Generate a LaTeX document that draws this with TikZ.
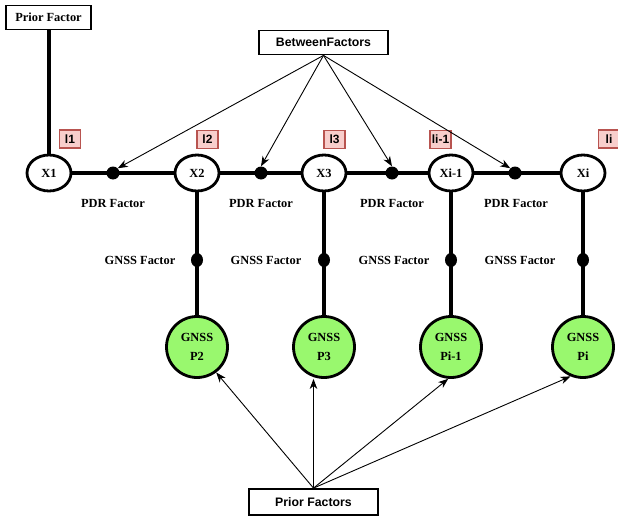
\documentclass[tikz,border=0pt]{standalone}
\usepackage{fontspec}
\setmainfont{Liberation Serif}
\setsansfont{Liberation Sans}
\usetikzlibrary{arrows.meta,shapes.geometric}
\definecolor{gfill}{HTML}{99F86E}
\definecolor{lfill}{HTML}{F8CECC}
\definecolor{ldraw}{HTML}{B85450}
\pgfdeclarelayer{bg}
\pgfsetlayers{bg,main}
\begin{document}
\begin{tikzpicture}[x=1pt,y=-1pt,
  fs/.style={font=\fontsize{12.4}{18.5}\selectfont\bfseries},
  sfs/.style={font=\sffamily\bfseries\fontsize{12.3}{14}\selectfont},
  state/.style={draw,line width=2.8pt,ellipse,minimum width=44pt,minimum height=36pt,inner sep=0pt,fill=white,fs},
  gnss/.style={draw,line width=2.8pt,circle,minimum size=61pt,inner sep=0pt,fill=gfill,fs,align=center},
  fdot/.style={circle,fill=black,minimum size=13pt,inner sep=0pt},
  gdot/.style={ellipse,fill=black,minimum width=12pt,minimum height=14pt,inner sep=0pt},
  lbl/.style={draw=ldraw,line width=1.4pt,fill=lfill,minimum width=21pt,minimum height=18pt,inner sep=2pt,font=\sffamily\bfseries\fontsize{12}{14}\selectfont},
  boxs/.style={draw,line width=1.8pt,inner sep=0pt,minimum height=24pt},
  thk/.style={line width=3.2pt},
  arr/.style={line width=0.9pt,-{Stealth[length=10pt,width=7.5pt,inset=3pt]}},
  txt/.style={fs,inner sep=0pt}
]
\useasboundingbox (0,0) rectangle (618,519);
% boxes
\node[boxs,minimum width=85pt,fs] (pf) at (48.5,17.5) {Prior Factor};
\node[boxs,minimum width=129pt,sfs] (bf) at (323.5,42.5) {BetweenFactors};
\node[boxs,minimum width=129pt,minimum height=26pt,sfs] (pfs) at (313.5,502) {Prior Factors};
% states
\node[state] (x1) at (49,173) {X1};
\node[state] (x2) at (197,173) {X2};
\node[state] (x3) at (324,173) {X3};
\node[state] (x4) at (451,173) {Xi-1};
\node[state] (x5) at (583,173) {Xi};
% pdr factor dots
\node[fdot] (d1) at (113,173) {};
\node[fdot] (d2) at (261,173) {};
\node[fdot] (d3) at (392,173) {};
\node[fdot] (d4) at (515,173) {};
% gnss factor dots
\node[gdot] (g2) at (197,260) {};
\node[gdot] (g3) at (324,260) {};
\node[gdot] (g4) at (451,260) {};
\node[gdot] (g5) at (583,260) {};
% gnss circles
\node[gnss] (p2) at (197,347) {GNSS\\P2};
\node[gnss] (p3) at (324,347) {GNSS\\P3};
\node[gnss] (p4) at (451,347) {GNSS\\Pi-1};
\node[gnss] (p5) at (583,347) {GNSS\\Pi};
% thick connectors behind nodes
\begin{pgfonlayer}{bg}
\draw[thk] (pf.south -| x1) -- (x1.center);
\draw[thk] (x1.center) -- (d1.center) -- (x2.center) -- (d2.center) -- (x3.center) -- (d3.center) -- (x4.center) -- (d4.center) -- (x5.center);
\draw[thk] (x2.center) -- (g2.center) -- (p2.center);
\draw[thk] (x3.center) -- (g3.center) -- (p3.center);
\draw[thk] (x4.center) -- (g4.center) -- (p4.center);
\draw[thk] (x5.center) -- (g5.center) -- (p5.center);
\end{pgfonlayer}
% index labels
\node[lbl] (l1) at (70,139) {l1};
\node[lbl] (l2) at (207.5,139.5) {l2};
\node[lbl] (l3) at (334.5,139.5) {l3};
\node[lbl] (l4) at (440.5,139.5) {li-1};
\node[lbl] (l5) at (609,139) {li};
% text labels
\node[txt] (t1) at (113,203) {PDR Factor};
\node[txt] (t2) at (261,203) {PDR Factor};
\node[txt] (t3) at (392,203) {PDR Factor};
\node[txt] (t4) at (516,203) {PDR Factor};
\node[txt] (u2) at (140,260) {GNSS Factor};
\node[txt] (u3) at (266,260) {GNSS Factor};
\node[txt] (u4) at (394,260) {GNSS Factor};
\node[txt] (u5) at (520,260) {GNSS Factor};
% arrows from between factors
\draw[arr] (bf.south) -- (d1.north east);
\draw[arr] (bf.south) -- (d2.north);
\draw[arr] (bf.south) -- (d3.north);
\draw[arr] (bf.south) -- (d4.north west);
% arrows from prior factors
\draw[arr] (pfs.north) -- (p2.307);
\draw[arr] (pfs.north) -- (pfs.north |- p3.south);
\draw[arr] (pfs.north) -- (p4.265);
\draw[arr] (pfs.north) -- (p5.247);
\end{tikzpicture}
\end{document}
